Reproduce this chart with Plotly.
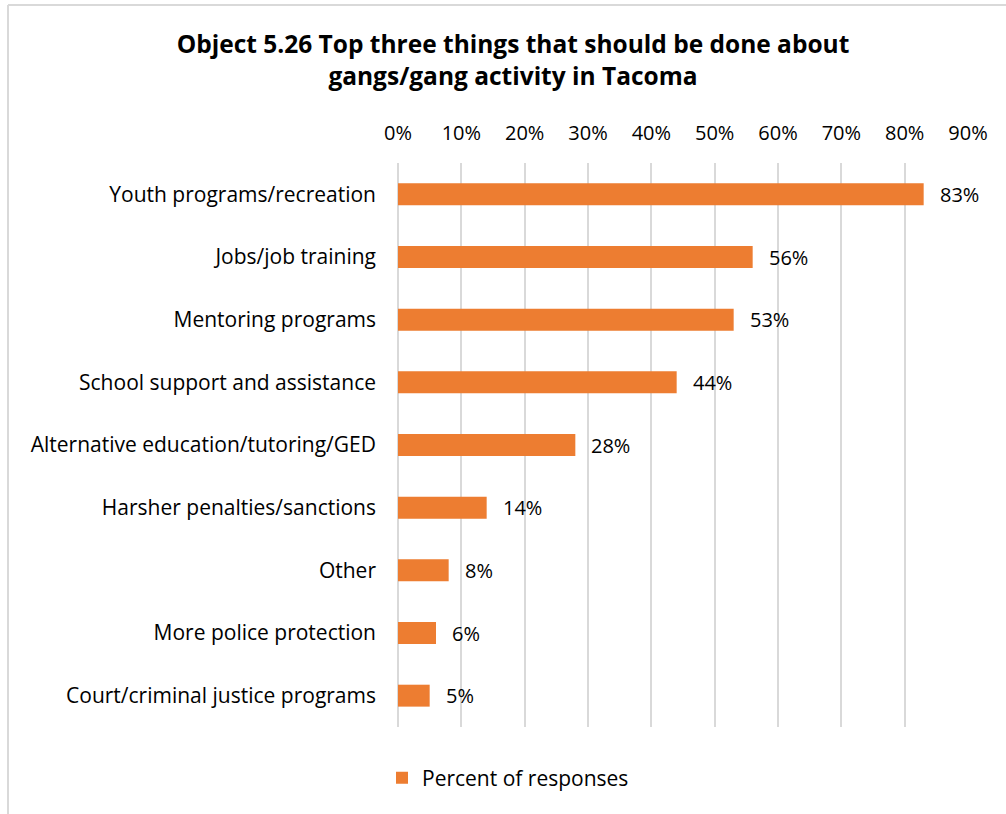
import plotly.graph_objects as go

categories = [
    "Youth programs/recreation",
    "Jobs/job training",
    "Mentoring programs",
    "School support and assistance",
    "Alternative education/tutoring/GED",
    "Harsher penalties/sanctions",
    "Other",
    "More police protection",
    "Court/criminal justice programs",
]
percent = [83, 56, 53, 44, 28, 14, 8, 6, 5]
tick_values = [0, 10, 20, 30, 40, 50, 60, 70, 80, 90]
tick_labels = ["0%", "10%", "20%", "30%", "40%", "50%", "60%", "70%", "80%", "90%"]

ORANGE = "#ED7D31"
GRID = "#D9D9D9"
FONT = "Open Sans"

W, H = 1006, 814
L, R, T, B = 398, 38, 163, 87

fig = go.Figure()
fig.add_trace(go.Bar(
    x=percent,
    y=categories,
    orientation="h",
    marker=dict(color=ORANGE, line=dict(width=0)),
    name="Percent of responses",
))

# value labels placed just right of each bar end
for c, v in zip(categories, percent):
    fig.add_annotation(
        x=v, y=c, xref="x", yref="y",
        text=f"{v}%", showarrow=False,
        xanchor="left", yanchor="middle", xshift=14,
        font=dict(family=FONT, size=20, color="#000000"),
    )

pw = W - L - R
ph = H - T - B
def px_x(p):
    return (p - L) / pw
def px_y(p):
    return (H - B - p) / ph

# chart frame (left and top edges)
frame = dict(color="#D9D9D9", width=2)
fig.add_shape(type="line", xref="paper", yref="paper",
              x0=px_x(8), x1=px_x(8), y0=px_y(5), y1=px_y(830), line=frame)
fig.add_shape(type="line", xref="paper", yref="paper",
              x0=px_x(8), x1=px_x(1020), y0=px_y(5), y1=px_y(5), line=frame)

fig.update_layout(
    width=W, height=H,
    margin=dict(l=L, r=R, t=T, b=B),
    paper_bgcolor="white", plot_bgcolor="white",
    font=dict(family=FONT, size=20, color="#000000"),
    bargap=0.65,
    title=dict(
        text="<b>Object 5.26 Top three things that should be done about<br>gangs/gang activity in Tacoma</b>",
        x=513 / W, xanchor="center",
        y=1 - 53 / H, yanchor="middle", yref="container",
        font=dict(family=FONT, size=24.5, color="#000000"),
    ),
    xaxis=dict(
        side="top", range=[0, 90],
        tickvals=tick_values, ticktext=tick_labels,
        tickfont=dict(size=20),
        showgrid=True, gridcolor=GRID, gridwidth=2,
        zeroline=True, zerolinecolor=GRID, zerolinewidth=2,
        showline=False, ticks="", ticklabelstandoff=18,
        fixedrange=True,
    ),
    yaxis=dict(
        categoryorder="array", categoryarray=categories,
        autorange="reversed",
        tickfont=dict(size=21),
        showgrid=False, zeroline=False, showline=False,
        ticks="", ticklabelstandoff=21,
    ),
    showlegend=True,
    legend=dict(
        orientation="h", x=(508 - L) / pw, xanchor="center",
        y=-(778 - (H - B)) / ph, yanchor="middle",
        itemwidth=30,
        font=dict(family=FONT, size=21),
    ),
)

fig.write_html("out.html")
